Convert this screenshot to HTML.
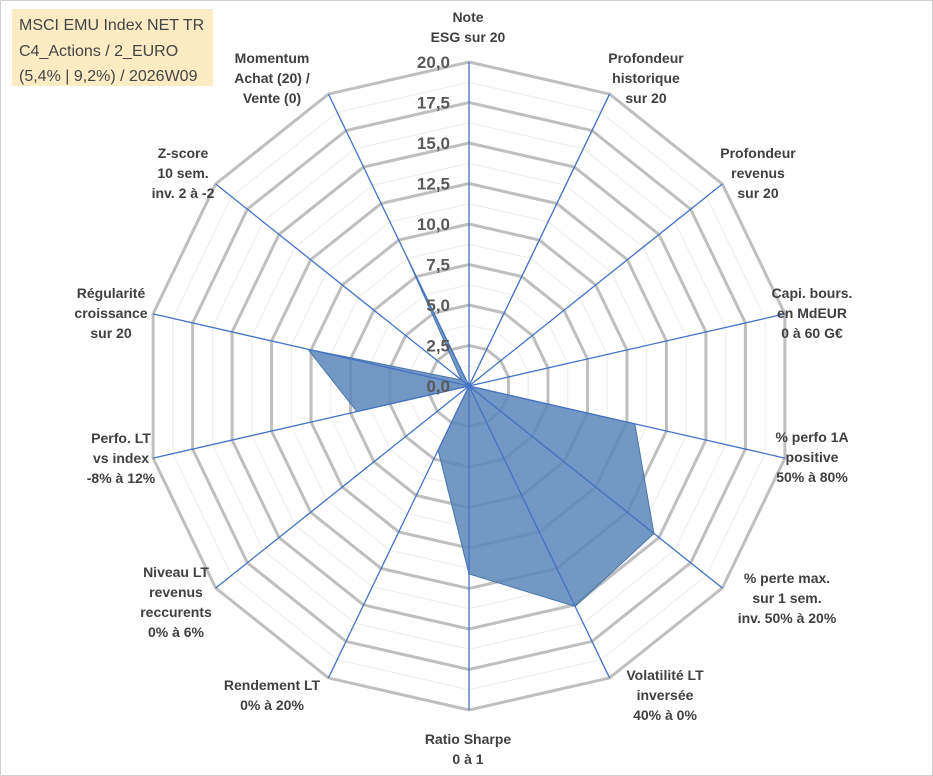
<!DOCTYPE html>
<html><head><meta charset="utf-8"><style>
html,body{margin:0;padding:0;background:#fff;}
#wrap{position:relative;width:933px;height:776px;overflow:hidden;}
svg text{font-family:"Liberation Sans",sans-serif;}
</style></head><body>
<div id="wrap">
<svg id="chart" width="933" height="776">
<rect x="0.5" y="0.5" width="932" height="775" fill="#fff" stroke="#d0d0d0"/>
<rect x="12" y="9" width="201" height="77" fill="#fdebc4"/>
<text x="19" y="30" font-size="16" fill="#444">MSCI EMU Index NET TR</text>
<text x="19" y="56" font-size="16" fill="#444">C4_Actions / 2_EURO</text>
<text x="19" y="81" font-size="16" fill="#444">(5,4% | 9,2%) / 2026W09</text>
</svg>
</div>
<script>
const categories=[["Note","ESG sur 20"],["Profondeur","historique","sur 20"],["Profondeur","revenus","sur 20"],["Capi. bours.","en MdEUR","0 à 60 G€"],["% perfo 1A","positive","50% à 80%"],["% perte max.","sur 1 sem.","inv. 50% à 20%"],["Volatilité LT","inversée","40% à 0%"],["Ratio Sharpe","0 à 1"],["Rendement LT","0% à 20%"],["Niveau LT","revenus","reccurents","0% à 6%"],["Perfo. LT","vs index","-8% à 12%"],["Régularité","croissance","sur 20"],["Z-score","10 sem.","inv. 2 à -2"],["Momentum","Achat (20) /","Vente (0)"]];
const values=[0,20,0,0,10.5,14.6,15.1,11.6,4.4,0,7.1,10.2,0.6,8.9];
const tickLabels=["0,0","2,5","5,0","7,5","10,0","12,5","15,0","17,5","20,0"];
const labelPos=[[468,22],[646,63],[758,158],[812,298],[812,442],[787,583],[665,680],[468,744],[272,690],[176,577],[121,443],[111,298],[183,158],[272,63]];
const cx=469,cy=386,R=324,maxV=20;
const svg=document.getElementById('chart');
const NS='http://www.w3.org/2000/svg';
const n=categories.length;
function ang(i){return i*2*Math.PI/n;}
function pt(i,v){const r=v/maxV*R;return [cx+r*Math.sin(ang(i)),cy-r*Math.cos(ang(i))];}
function mk(t,a){const e=document.createElementNS(NS,t);for(const k in a)e.setAttribute(k,a[k]);svg.appendChild(e);return e;}
// minor rings
for(let k=1;k<=16;k++){if(k%2===0)continue;const v=k*1.25;
 const p=[];for(let i=0;i<n;i++)p.push(pt(i,v).join(','));
 const e=mk('polygon',{points:p.join(' '),fill:'none',stroke:'#ececec','stroke-width':1});
 
 }
for(let k=1;k<tickLabels.length;k++){const v=k*2.5;
 const p=[];for(let i=0;i<n;i++)p.push(pt(i,v).join(','));
 const e=mk('polygon',{points:p.join(' '),fill:'none',stroke:'#bfbfbf','stroke-width':3});
 
 }
// series
const sp=values.map((v,i)=>pt(i,v).join(',')).join(' ');
const ser=mk('polygon',{points:sp,fill:'#5b86b8','fill-opacity':0.85,stroke:'#4a76ab','stroke-width':1});


for(let i=0;i<n;i++){const [x,y]=pt(i,maxV);
 const e=mk('line',{x1:cx,y1:cy,x2:x,y2:y,stroke:'#4472c4','stroke-width':1.3});
 
 }
for(let k=0;k<tickLabels.length;k++){const y=cy-k*2.5/maxV*R;
 const e=mk('text',{x:450,y:y+6,'text-anchor':'end','font-size':17,'font-weight':'bold',fill:'#595959'});
 e.textContent=tickLabels[k];
 
 }
for(let i=0;i<n;i++){const lines=categories[i];const [x,y0]=labelPos[i];
 const t=mk('text',{x:x,y:y0,'text-anchor':'middle','font-size':14,'font-weight':'bold',fill:'#404040'});
 lines.forEach((s,j)=>{const ts=document.createElementNS(NS,'tspan');ts.setAttribute('x',x);ts.setAttribute('y',y0+j*20);ts.textContent=s;t.appendChild(ts);});
 
 }
</script>
</body></html>
